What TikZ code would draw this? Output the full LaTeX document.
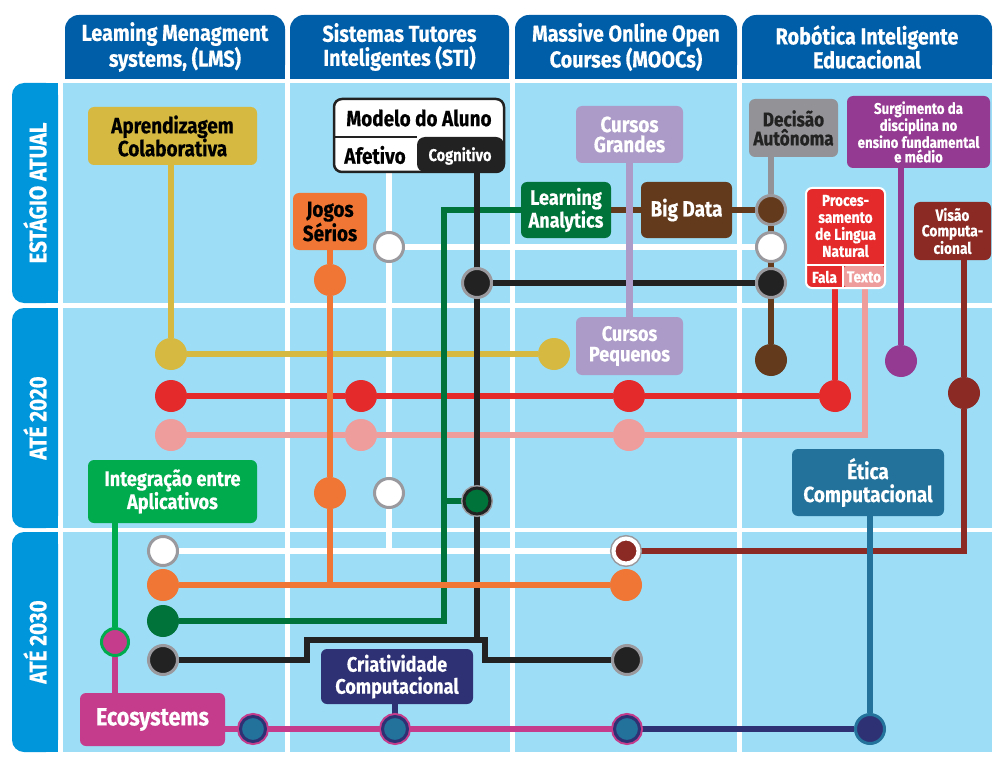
\documentclass[tikz,border=0pt]{standalone}
\usepackage{fontspec}
\setmainfont{Fira Sans}[FakeStretch=0.86,FakeBold=0.4]
\usetikzlibrary{calc}
\pgfdeclarelayer{bg}\pgfdeclarelayer{lines}
\pgfsetlayers{bg,lines,main}
\definecolor{hdr}{HTML}{005EA8}
\definecolor{rowc}{HTML}{0096DB}
\definecolor{panel}{HTML}{9DDDF6}
\definecolor{yellowc}{HTML}{D5B941}
\definecolor{redc}{HTML}{E52A2B}
\definecolor{pinkc}{HTML}{EE9C9C}
\definecolor{orangec}{HTML}{EF7634}
\definecolor{dgreen}{HTML}{00733A}
\definecolor{brownc}{HTML}{633A1C}
\definecolor{greyc}{HTML}{939397}
\definecolor{ringg}{HTML}{9A9A9E}
\definecolor{blackc}{HTML}{222222}
\definecolor{lav}{HTML}{AC9BC8}
\definecolor{purp}{HTML}{953A92}
\definecolor{maroon}{HTML}{8B2A24}
\definecolor{tealc}{HTML}{22729B}
\definecolor{navy}{HTML}{2F3175}
\definecolor{magc}{HTML}{C63C8C}
\definecolor{gint}{HTML}{00AB4E}
\newcommand\fsz[2]{\fontsize{#1}{#2}\selectfont}
\begin{document}
\begin{tikzpicture}[x=1pt,y=-1pt,font=\bfseries,
  box/.style={rounded corners=6pt, inner sep=0pt, align=center, text=white},
  stn/.style={circle, inner sep=0pt, minimum size=32pt, fill=#1},
  rstn/.style={circle, inner sep=0pt, minimum size=29pt, fill=#1, draw=ringg, line width=3pt},
  route/.style={line width=6.5pt, draw=#1},
  hdrtab/.style={rounded corners=14pt, fill=hdr, text=white, minimum width=#1, minimum height=64pt, inner sep=0pt, align=center, font=\bfseries\fsz{23}{24}},
  rowtab/.style={rounded corners=12pt, fill=rowc, text=white, minimum width=220pt, minimum height=46pt, inner sep=0pt, rotate=90, font=\bfseries\fsz{24}{24}},
]
\useasboundingbox (0,0) rectangle (1001,762);

% headers
\node[hdrtab=220pt] (h1) at (175,47) {Leaming Menagment\\systems, (LMS)};
\node[hdrtab=219pt] (h2) at (399.5,47) {Sistemas Tutores\\Inteligentes (STI)};
\node[hdrtab=222pt] (h3) at (626,47) {Massive Online Open\\Courses (MOOCs)};
\node[hdrtab=250pt] (h4) at (867,47) {Robótica Inteligente\\Educacional};

% row labels
\node[rowtab] (ra) at (35,193) {ESTÁGIO ATUAL};
\node[rowtab] (rb) at (35,418) {ATÉ 2020};
\node[rowtab] (rc) at (35,642) {ATÉ 2030};

% boxes
\node[box, fill=yellowc, text=black, minimum width=169pt, minimum height=58pt, font=\bfseries\fsz{22}{23}] (ap) at (172.5,136) {Aprendizagem\\Colaborativa};
\node[box, fill=orangec, text=black, minimum width=74pt, minimum height=57pt, font=\bfseries\fsz{22}{22}] (js) at (330,221.5) {Jogos\\Sérios};
\node[draw=blackc, line width=2.5pt, fill=white, rounded corners=8pt, minimum width=170pt, minimum height=73pt, inner sep=0pt,
  path picture={\fill[blackc] (path picture bounding box.south east) rectangle ([xshift=-87pt,yshift=35pt]path picture bounding box.south east);}] (mod) at (419,135.5) {};
\draw[blackc, line width=1.5pt] (334,137) -- (417,137);
\node[text=black, font=\bfseries\fsz{22}{22}] (modt) at (419,118) {Modelo do Aluno};
\node[text=black, font=\bfseries\fsz{22}{22}] (afe) at (375,155) {Afetivo};
\node[text=white, font=\bfseries\fsz{17}{17}] (cog) at (460,156) {Cognitivo};
\node[box, fill=dgreen, minimum width=90pt, minimum height=56pt, font=\bfseries\fsz{21}{20}] (la) at (566,210) {Learning\\Analytics};
\node[box, fill=brownc, minimum width=91pt, minimum height=56pt, font=\bfseries\fsz{22}{22}] (bd) at (686.5,210) {Big Data};
\node[box, fill=lav, minimum width=107pt, minimum height=57pt, font=\bfseries\fsz{22}{20}] (cg) at (629.5,134.5) {Cursos\\Grandes};
\node[box, fill=lav, minimum width=107pt, minimum height=58pt, font=\bfseries\fsz{21}{20.5}] (cp) at (629.5,346) {Cursos\\Pequenos};
\node[box, fill=greyc, text=blackc, minimum width=89pt, minimum height=58pt, font=\bfseries\fsz{20}{19}] (da) at (793.5,128) {Decisão\\Autônoma};
\node[box, fill=purp, minimum width=143pt, minimum height=72pt, font=\bfseries\fsz{15.5}{14.5}] (sg) at (918.5,132) {Surgimento da\\disciplina no\\ensino fundamental\\e médio};
\node[box, fill=redc, draw=white, line width=2pt, minimum width=79pt, minimum height=100pt,
  path picture={\fill[pinkc] (path picture bounding box.south east) rectangle ([xshift=-42pt,yshift=23pt]path picture bounding box.south east);}] (pln) at (845.5,238) {};
\node[text=white, align=center, font=\bfseries\fsz{16}{17}] (plnt) at (845.5,226) {Proces-\\samento\\de Lingua\\Natural};
\draw[white, line width=1.5pt] (806,265) -- (885,265) (843,265) -- (843,288);
\node[text=white, font=\bfseries\fsz{16}{16}] (fala) at (824.5,277) {Fala};
\node[text=white, font=\bfseries\fsz{16}{16}] (texto) at (864,277) {Texto};
\node[box, fill=maroon, minimum width=77pt, minimum height=58pt, font=\bfseries\fsz{16}{15.5}] (vc) at (952.5,231) {Visão\\Computa-\\cional};
\node[box, fill=gint, minimum width=169pt, minimum height=63pt, font=\bfseries\fsz{21}{23}] (ig) at (172.5,491.5) {Integração entre\\Aplicativos};
\node[box, fill=tealc, minimum width=152pt, minimum height=67pt, font=\bfseries\fsz{22}{23}] (et) at (868,482.5) {Ética\\Computacional};
\node[box, fill=navy, minimum width=152pt, minimum height=55pt, font=\bfseries\fsz{21}{22}] (cc) at (397,676.5) {Criatividade\\Computacional};
\node[box, fill=magc, minimum width=145pt, minimum height=53pt, font=\bfseries\fsz{25}{25}] (eco) at (152.5,719.5) {Ecosystems};

% stations
\node[stn=yellowc] (y1) at (171,354) {};
\node[stn=yellowc] (y2) at (554,354) {};
\node[stn=redc] (r1) at (171,396) {};
\node[stn=redc] (r2) at (361,396) {};
\node[stn=redc] (r3) at (629,396) {};
\node[stn=redc] (r4) at (835,396) {};
\node[stn=pinkc] (p1) at (171,435) {};
\node[stn=pinkc] (p2) at (361,435) {};
\node[stn=pinkc] (p3) at (629,435) {};
\node[stn=orangec] (o1) at (330,280) {};
\node[stn=orangec] (o2) at (330,493) {};
\node[stn=orangec] (o3) at (163,585) {};
\node[stn=orangec] (o4) at (626,585) {};
\node[stn=dgreen] (g1) at (163,621) {};
\node[circle, inner sep=0pt, minimum size=26pt, fill=dgreen, draw=blackc, line width=3pt, preaction={draw=ringg, line width=6pt}] (g2) at (477,501) {};
\node[rstn=blackc] (k1) at (477,283) {};
\node[rstn=blackc] (k2) at (771,283) {};
\node[rstn=blackc] (k3) at (163,660) {};
\node[rstn=blackc] (k4) at (627,660) {};
\node[rstn=white] (w1) at (389,247) {};
\node[rstn=white] (w2) at (771,247) {};
\node[rstn=white] (w3) at (389,493) {};
\node[rstn=white] (w4) at (163,551) {};
\node[rstn=brownc] (b1) at (771,210) {};
\node[stn=brownc] (b2) at (771,360) {};
\node[stn=purp] (u1) at (901,361) {};
\node[stn=maroon] (m1) at (964,393) {};
\node[circle, inner sep=0pt, minimum size=25pt, fill=maroon, draw=white, line width=4pt, preaction={draw=ringg, line width=7pt}] (m2) at (626,551) {};
\node[circle, inner sep=0pt, minimum size=29pt, fill=navy, draw=tealc, line width=3pt] (t1) at (870,729) {};
\node[circle, inner sep=0pt, minimum size=27pt, fill=magc, draw=gint, line width=3pt] (e1) at (115,642) {};
\node[circle, inner sep=0pt, minimum size=25pt, fill=tealc, draw=navy, line width=3pt, preaction={draw=magc, line width=7pt}] (e2) at (253,729) {};
\node[circle, inner sep=0pt, minimum size=25pt, fill=tealc, draw=navy, line width=3pt, preaction={draw=magc, line width=7pt}] (e3) at (395,729) {};
\node[circle, inner sep=0pt, minimum size=25pt, fill=tealc, draw=navy, line width=3pt, preaction={draw=magc, line width=7pt}] (e4) at (627,729) {};

% route bends
\coordinate (wc) at (389,551);
\coordinate (gc1) at (444,210);
\coordinate (gc2) at (444,621);
\coordinate (kb1) at (477,640);
\coordinate (kb2) at (307,640);
\coordinate (kb3) at (307,660);
\coordinate (kb4) at (485,640);
\coordinate (kb5) at (485,660);
\coordinate (oc) at (330,585);
\coordinate (pc) at (865,435);
\coordinate (mc) at (964,551);

\begin{pgfonlayer}{lines}
% white route
\draw[route=white] (w1 |- mod.south) -- (wc);
\draw[route=white] (w1) -- (w2);
\draw[route=white] (w4) -- (m2);
% maroon
\draw[route=maroon] (vc.south -| m1) -- (m1) -- (mc) -- (m2);
% brown
\draw[route=brownc] (la.east) -- (bd.west);
\draw[route=brownc] (bd.east) -- (b1) -- (b2);
\draw[route=greyc] (da.south -| b1) -- (b1);
% black horizontal
\draw[route=blackc] (k1) -- (k2);
% horizontals
\draw[route=yellowc] (ap.south -| y1) -- (y1) -- (y2);
\draw[route=redc] (r4 |- pln.south) -- (r4) -- (r3) -- (r2) -- (r1);
\draw[route=pinkc] (pc |- pln.south) -- (pc) -- (p3) -- (p2) -- (p1);
% verticals
\draw[route=dgreen] (la.west) -- (gc1) -- (gc2) -- (g1);
\draw[route=dgreen] (gc1 |- g2) -- (g2);
\draw[route=blackc] (k1 |- mod.south) -- (kb1);
\draw[route=blackc] (k3) -- (kb3) -- (kb2) -- (kb4) -- (kb5) -- (k4);
\draw[route=orangec] (js.south) -- (o1) -- (o2) -- (oc);
\draw[route=orangec] (o3) -- (o4);
\draw[route=lav] (cg.south) -- (cp.north);
\draw[route=purp] (sg.south -| u1) -- (u1);
\draw[route=tealc] (et.south -| t1) -- (t1);
\draw[route=navy] (e4) -- (t1);
\draw[route=navy] (cc.south -| e3) -- (e3);
\draw[route=magc] (e2 -| eco.east) -- (e2) -- (e3) -- (e4);
\draw[route=gint] (ig.south -| e1) -- (e1);
\draw[route=magc] (e1) -- (e1 |- eco.north);
\end{pgfonlayer}

\begin{pgfonlayer}{bg}
\fill[white] (0,0) rectangle (1001,762);
\foreach \xa/\xb in {63/285, 290/510, 515/737, 742/992}
  \foreach \ya/\yb in {83/303, 308/528, 532/752}
    \fill[panel] (\xa,\ya) rectangle (\xb,\yb);
\fill[hdr] (h1.west) rectangle (h1.south east);
\fill[hdr] (h2.west) rectangle (h2.south east);
\fill[hdr] (h3.west) rectangle (h3.south east);
\fill[hdr] (h4.west) rectangle (h4.south east);
\fill[rowc] (35,83) rectangle (58,303);
\fill[rowc] (35,308) rectangle (58,528);
\fill[rowc] (35,532) rectangle (58,752);
\end{pgfonlayer}
\end{tikzpicture}
\end{document}
